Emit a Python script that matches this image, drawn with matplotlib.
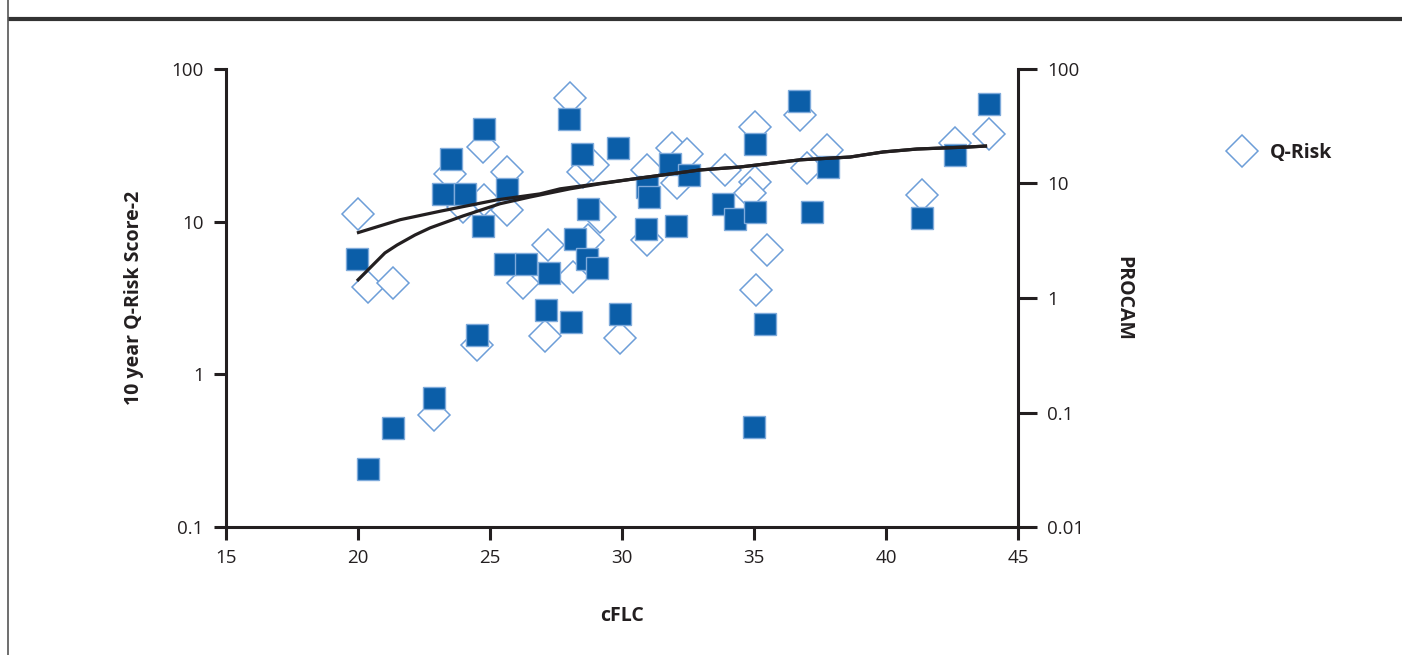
import matplotlib
matplotlib.use("Agg")
import matplotlib.pyplot as plt
from matplotlib.lines import Line2D

plt.rcParams["font.family"] = ["Open Sans", "DejaVu Sans"]

# Q-Risk (open diamonds, left axis)
qrisk_x = [20.0, 20.38, 21.33, 22.88, 24.51, 24.73, 23.48, 23.98, 24.77, 25.64,
           25.64, 26.25, 27.08, 27.2, 28.03, 28.14, 28.71, 28.52, 28.9, 29.17,
           29.92, 30.95, 30.95, 31.89, 32.46, 32.08, 33.9, 35.04, 35.04, 34.85,
           35.49, 35.08, 36.74, 37.0, 37.77, 41.36, 42.61, 43.9]
qrisk_y = [11.2, 3.73, 3.97, 0.54, 1.56, 30.8, 20.5, 12.5, 13.9, 21.2,
           11.9, 3.97, 1.78, 7.03, 64.6, 4.34, 7.59, 21.2, 23.5, 10.7,
           1.73, 21.8, 7.59, 30.4, 27.8, 17.9, 21.8, 41.7, 18.2, 15.4,
           6.53, 3.57, 50.0, 22.5, 29.5, 15.0, 32.8, 37.5]

# PROCAM (filled squares, right axis)
procam_x = [19.96, 20.38, 21.33, 22.88, 23.52, 23.22, 24.05, 24.77, 25.64, 24.73,
            24.51, 25.57, 26.36, 27.23, 27.12, 28.07, 27.99, 28.48, 29.85, 28.71,
            28.22, 28.67, 29.05, 29.92, 30.91, 31.82, 30.95, 31.02, 32.54, 32.05,
            33.83, 34.28, 35.04, 35.04, 36.7, 37.2, 37.8, 41.36, 42.61, 43.9,
            35.0, 35.42]
procam_y = [2.17, 0.032, 0.073, 0.133, 16.4, 8.14, 8.14, 30.0, 9.0, 4.28,
            0.471, 2.0, 2.0, 1.64, 0.78, 0.62, 36.7, 18.2, 20.5, 6.03,
            3.3, 2.21, 1.84, 0.73, 4.03, 14.9, 9.37, 7.67, 11.9, 4.28,
            6.66, 4.93, 5.67, 22.2, 52.6, 5.67, 14.0, 5.03, 17.8, 49.5,
            0.074, 0.59]

# trend lines (read in left-axis units)
trend_a_x = [19.96, 21.6, 23.11, 25.27, 26.89, 27.65, 30.68, 32.95, 34.47,
             36.74, 38.64, 39.89, 41.17, 43.07, 43.83]
trend_a_y = [8.43, 10.3, 11.7, 13.9, 15.2, 16.4, 19.3, 21.8, 22.8,
             25.4, 26.5, 28.6, 29.9, 30.8, 31.3]
trend_b_x = [19.96, 20.45, 21.02, 21.48, 22.16, 22.73, 23.98, 25.38, 26.52,
             28.03, 29.17, 30.68, 32.95, 34.47, 36.74, 38.64, 39.89, 41.17,
             43.07, 43.83]
trend_b_y = [4.09, 4.97, 6.24, 7.03, 8.18, 9.1, 10.9, 13.1, 14.5,
             16.4, 17.7, 19.3, 21.8, 22.8, 25.4, 26.5, 28.6, 29.9,
             30.8, 31.3]

x_ticks = [15, 20, 25, 30, 35, 40, 45]
left_ticks = [0.1, 1, 10, 100]
left_labels = ["0.1", "1", "10", "100"]
right_ticks = [0.01, 0.1, 1, 10, 100]
right_labels = ["0.01", "0.1", "1", "10", "100"]

ink = "#231f20"
sq_fill = "#0b5ea8"
sq_edge = "#7eaadb"
dia_edge = "#6d9ed8"

fig = plt.figure(figsize=(14.02, 6.55), dpi=100)
ax = fig.add_axes([0.1612, 0.1954, 0.5649, 0.6993])
ax2 = ax.twinx()

ax.plot(qrisk_x, qrisk_y, linestyle="none", marker="D", markersize=16.3,
        markerfacecolor="white", markeredgecolor=dia_edge, markeredgewidth=1.1,
        zorder=2)
ax2.plot(procam_x, procam_y, linestyle="none", marker="s", markersize=16,
         markerfacecolor=sq_fill, markeredgecolor=sq_edge, markeredgewidth=1.0,
         zorder=2)
# trend lines drawn on top of both series, in left-axis coordinates
for tx, ty in [(trend_a_x, trend_a_y), (trend_b_x, trend_b_y)]:
    ax2.plot(tx, ty, color=ink, linewidth=2.3, transform=ax.transData,
             zorder=3, solid_capstyle="butt")

ax.set_yscale("log")
ax2.set_yscale("log")
ax.set_xlim(15, 45)
ax.set_ylim(0.1, 100)
ax2.set_ylim(0.01, 100)

ax.set_xticks(x_ticks)
ax.set_xticklabels([str(t) for t in x_ticks])
ax.set_yticks(left_ticks)
ax.set_yticklabels(left_labels)
ax.minorticks_off()
ax2.set_yticks(right_ticks)
ax2.set_yticklabels(right_labels)
ax2.minorticks_off()

for a in (ax, ax2):
    for s in a.spines.values():
        s.set_visible(False)
ax.spines["left"].set_visible(True)
ax.spines["bottom"].set_visible(True)
ax2.spines["right"].set_visible(True)
for s in (ax.spines["left"], ax.spines["bottom"], ax2.spines["right"]):
    s.set_linewidth(2.2)
    s.set_color(ink)

ax.tick_params(axis="both", direction="out", length=9, width=2.2, color=ink,
               labelsize=13.5, labelcolor=ink, pad=7)
ax2.tick_params(axis="y", direction="out", length=14, width=2.2, color=ink,
                labelsize=13.5, labelcolor=ink, pad=7)

ax.set_xlabel("cFLC", fontsize=14, fontweight="bold", color=ink, labelpad=28)
ax.set_ylabel("10 year Q-Risk Score-2", fontsize=14, fontweight="bold",
              color=ink, labelpad=20)
ax2.set_ylabel("PROCAM", fontsize=14, fontweight="bold", color=ink,
               rotation=-90, labelpad=21, va="bottom")

handle = Line2D([], [], linestyle="none", marker="D", markersize=16.3,
                markerfacecolor="white", markeredgecolor=dia_edge,
                markeredgewidth=1.1)
leg = ax2.legend(handles=[handle], labels=["Q-Risk"], loc="center left",
                 bbox_to_anchor=(0.8652, 0.766), bbox_transform=fig.transFigure,
                 frameon=False, borderpad=0, handletextpad=0.4,
                 prop={"size": 14, "weight": "bold"})
for t in leg.get_texts():
    t.set_color(ink)

# page furniture: header rule and left border
fig.add_artist(Line2D([10 / 1402, 1.0], [1 - 19 / 655, 1 - 19 / 655],
                      transform=fig.transFigure, color="#333333", linewidth=3))
fig.add_artist(Line2D([8 / 1402, 8 / 1402], [0, 1], transform=fig.transFigure,
                      color="#555555", linewidth=1.2))

fig.savefig("out.png", dpi=100)
